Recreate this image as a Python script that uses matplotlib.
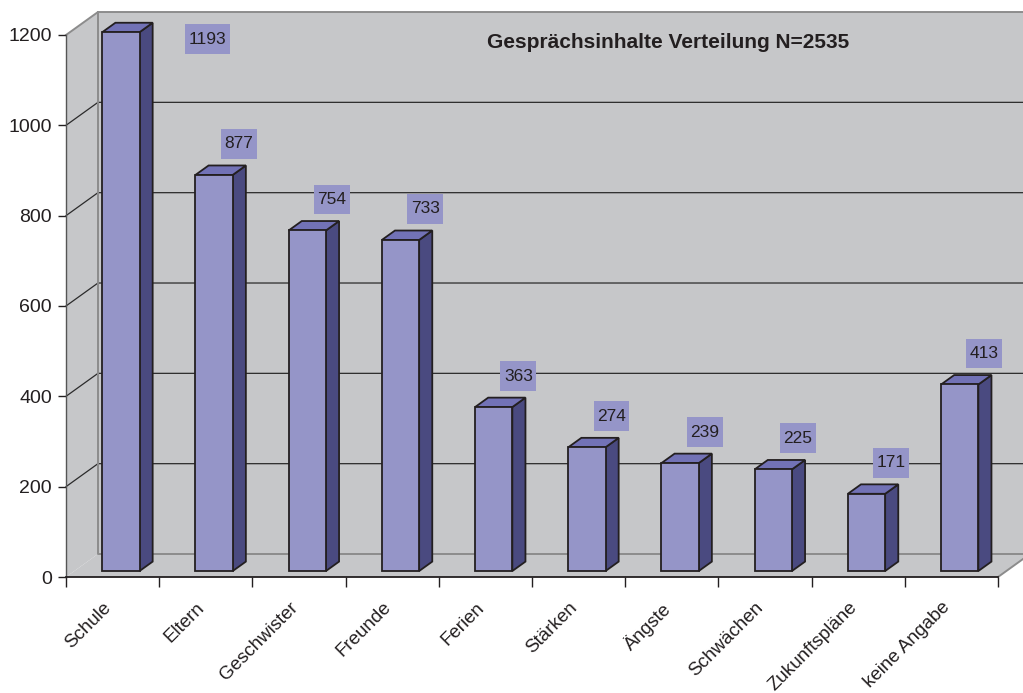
"""Gesprächsinhalte: 3D-Säulendiagramm im Excel-Stil."""

import matplotlib.pyplot as plt
from matplotlib.patches import Polygon
from matplotlib.path import Path

plt.rcParams["font.family"] = ["Liberation Sans", "DejaVu Sans"]

CATEGORIES = [
    "Schule", "Eltern", "Geschwister", "Freunde", "Ferien",
    "Stärken", "Ängste", "Schwächen", "Zukunftspläne", "keine Angabe",
]
COUNTS = [1193, 877, 754, 733, 363, 274, 239, 225, 171, 413]
Y_TICKS = [0, 200, 400, 600, 800, 1000, 1200]
TITLE = "Gesprächsinhalte Verteilung N=2535"

WALL = "#c6c7c9"
FRONT = "#9595c8"
SIDE = "#4a4a80"
TOP = "#7272b6"
EDGE = "#231f20"

# depth of the box in data units (x: categories, y: counts)
DX, DY = 0.343, 50.9
BAR_D0, BAR_D1 = 0.26, 0.67
BAR_W = 0.4


def proj(x, v, d):
    return (x + d * DX, v + d * DY)


def label_box(x0, y0, width, height, mutation_size):
    padx = 0.2 * mutation_size
    cy = y0 + height / 2
    h = 1.72 * mutation_size
    verts = [(x0 - padx, cy - h / 2), (x0 + width + padx, cy - h / 2),
             (x0 + width + padx, cy + h / 2), (x0 - padx, cy + h / 2),
             (x0 - padx, cy - h / 2)]
    return Path(verts, closed=True)


fig = plt.figure(figsize=(10.23, 6.93), dpi=100)
ax = fig.add_axes([66 / 1023, 116 / 693, 932 / 1023, 542 / 693])
ax.set_xlim(0, len(CATEGORIES))
ax.set_ylim(0, Y_TICKS[-1])
ax.patch.set_visible(False)
n = len(CATEGORIES)
top = Y_TICKS[-1]

# walls and floor
walls = [
    [proj(0, 0, 1), proj(n, 0, 1), proj(n, top, 1), proj(0, top, 1)],
    [proj(0, 0, 0), proj(0, 0, 1), proj(0, top, 1), proj(0, top, 0)],
    [proj(0, 0, 0), proj(n, 0, 0), proj(n, 0, 1), proj(0, 0, 1)],
]
for verts in walls:
    ax.add_patch(Polygon(verts, closed=True, facecolor=WALL, edgecolor="none",
                         clip_on=False, zorder=0))

for t in Y_TICKS[1:-1]:
    xs, ys = zip(proj(0, t, 0), proj(0, t, 1), proj(n, t, 1))
    ax.plot(xs, ys, color="#2b2b2b", lw=0.9, clip_on=False, zorder=1)

outline = [
    [proj(0, top, 0), proj(0, top, 1), proj(n, top, 1)],
    [proj(0, top, 1), proj(0, 0, 1), proj(n, 0, 1)],
    [proj(n, 0, 0), proj(n, 0, 1)],
]
for seg in outline:
    xs, ys = zip(*seg)
    ax.plot(xs, ys, color="#8c8c8c", lw=1.4, clip_on=False, zorder=1)

# bars
for i, v in enumerate(COUNTS):
    x0 = i + 0.5 - BAR_W / 2
    x1 = i + 0.5 + BAR_W / 2
    front = [proj(x0, 0, BAR_D0), proj(x1, 0, BAR_D0),
             proj(x1, v, BAR_D0), proj(x0, v, BAR_D0)]
    side = [proj(x1, 0, BAR_D0), proj(x1, 0, BAR_D1),
            proj(x1, v, BAR_D1), proj(x1, v, BAR_D0)]
    lid = [proj(x0, v, BAR_D0), proj(x1, v, BAR_D0),
           proj(x1, v, BAR_D1), proj(x0, v, BAR_D1)]
    for verts, color in ((side, SIDE), (lid, TOP), (front, FRONT)):
        ax.add_patch(Polygon(verts, closed=True, facecolor=color,
                             edgecolor=EDGE, lw=1.3, joinstyle="miter",
                             clip_on=False, zorder=3))

# value labels, the tallest one is pushed sideways below the top edge
label_offsets = {0: (68, -7)}
for i, v in enumerate(COUNTS):
    anchor = proj(i + 0.5 + BAR_W / 2, v, BAR_D0)
    off = label_offsets.get(i, (6, 31))
    ax.annotate(str(v), xy=anchor, xytext=off, textcoords="offset pixels",
                ha="center", va="center", fontsize=12.5, color=EDGE,
                bbox=dict(boxstyle=label_box, facecolor=FRONT,
                          edgecolor="none"),
                annotation_clip=False, zorder=5)

# category labels
for i, name in enumerate(CATEGORIES):
    ax.annotate(name, xy=(i + 0.5, 0), xytext=(-10, -22),
                textcoords="offset pixels", rotation=45,
                rotation_mode="anchor", ha="right", va="top",
                fontsize=13.5, color=EDGE, annotation_clip=False)

fig.text(668 / 1023, 1 - 43 / 693, TITLE, fontsize=15, fontweight="bold",
         color=EDGE, ha="center", va="center")

ax.set_yticks(Y_TICKS)
ax.set_xticks(range(n + 1))
ax.set_xticklabels([])
ax.tick_params(axis="y", length=5.8, width=1.0, pad=4.3, labelsize=14,
               colors=EDGE)
ax.tick_params(axis="x", length=7.2, width=1.0, colors=EDGE)
for side in ("top", "right"):
    ax.spines[side].set_visible(False)
ax.spines["left"].set_color("#555555")
ax.spines["left"].set_linewidth(1.0)
ax.spines["bottom"].set_color(EDGE)
ax.spines["bottom"].set_linewidth(1.3)

fig.savefig("out.png", dpi=100, facecolor="white")
